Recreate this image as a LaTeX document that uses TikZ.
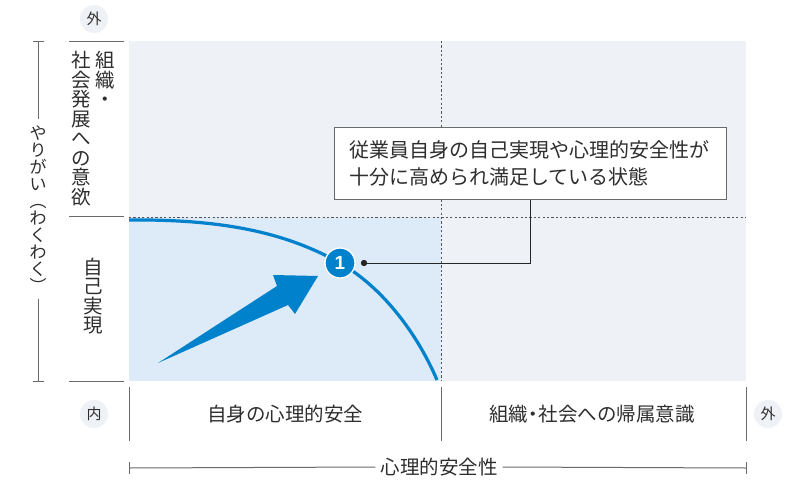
\documentclass[tikz,border=0pt]{standalone}
\usepackage{fontspec}
\setmainfont{Noto Sans CJK JP}
\newfontfamily\numfont{Liberation Sans}
\definecolor{mainblue}{HTML}{0081CC}
\definecolor{panel}{HTML}{EEF1F5}
\definecolor{lightblue}{HTML}{DDEAF8}
\definecolor{textgray}{HTML}{2E2E2E}
\definecolor{rulegray}{HTML}{6A6A6A}
\definecolor{dashgray}{HTML}{555555}
\begin{document}
\begin{tikzpicture}[x=1pt,y=-1pt,
  txt/.style={text=textgray, inner sep=0pt},
  big/.style={font=\fontsize{19.5}{27}\selectfont},
  vert/.style={txt, align=center, font=\fontsize{19.5}{19.5}\selectfont},
  vsmall/.style={txt, align=center, font=\fontsize{17}{17}\selectfont, inner ysep=6pt},
  badge/.style={circle, fill=panel, minimum size=28pt, inner sep=0pt, text=textgray, font=\fontsize{15}{15}\selectfont},
  rulel/.style={draw=rulegray, line width=1pt},
  dashline/.style={draw=dashgray, line width=0.9pt, dash pattern=on 2.2pt off 2.2pt},
  curveline/.style={draw=mainblue, line width=3.2pt},
  numcircle/.style={circle, fill=mainblue, draw=white, line width=1.3pt, minimum size=30pt, inner sep=0pt, text=white, font=\numfont\bfseries\fontsize{19}{19}\selectfont},
  dotnode/.style={circle, fill=black!85, minimum size=6pt, inner sep=0pt},
  leader/.style={draw=black!85, line width=1pt},
  callout/.style={draw=rulegray, line width=1pt, fill=white, text width=362pt, inner xsep=15pt, minimum height=72pt, align=left, text=textgray, font=\fontsize{20}{27}\selectfont}
]
\useasboundingbox (0,0) rectangle (797,479);
\fill[white] (0,0) rectangle (797,479);
% panels
\fill[panel] (129,41) rectangle (746,381);
\fill[lightblue] (129,217) rectangle (441,381);
\draw[dashline] (441,41) -- (441,381);
\draw[dashline] (129,217) -- (746,217);

% left axis labels
\node[badge] (outv) at (94,19) {外};
\node[badge] (inn) at (94,414) {内};
\draw[rulel] (69,41) -- (124,41);
\draw[rulel] (69,216) -- (124,216);
\draw[rulel] (69,381) -- (124,381);
\node[vert, anchor=north] (orgA) at (105,51) {組\\織\\・};
\node[vert, anchor=north] (orgB) at (81,51) {社\\会\\発\\展\\へ\\の\\意\\欲};
\node[vert] (self) at (93,296) {自\\己\\実\\現};

% left bracket
\coordinate (lt) at (38,41);
\coordinate (lb) at (38,381);
\node[vsmall] (yarigai) at (38,209) {や\\り\\が\\い\\︵\\わ\\く\\わ\\く\\︶};
\draw[rulel] (lt) -- (yarigai.north);
\draw[rulel] (yarigai.south) -- (lb);
\draw[rulel] (33,41) -- (44,41);
\draw[rulel] (33,381) -- (44,381);

% bottom axis labels
\draw[rulel] (129,387) -- (129,441);
\draw[rulel] (441,387) -- (441,441);
\draw[rulel] (746,387) -- (746,441);
\node[txt, big] (safe) at (285,414) {自身の心理的安全};
\node[txt, big] (belong) at (592,414) {組織\kern-0.22em・\kern-0.22em社会への帰属意識};
\node[badge] (outh) at (768,414) {外};

% bottom bracket
\coordinate (bl) at (129,468);
\coordinate (br) at (746,468);
\node[txt, big, inner xsep=5pt] (psy) at (439,467) {心理的安全性};
\draw[rulel] (bl) -- (psy.west);
\draw[rulel] (psy.east) -- (br);
\draw[rulel] (129,462) -- (129,474);
\draw[rulel] (746,462) -- (746,474);

% curve
\coordinate (c0) at (129,220);
\coordinate (c1) at (340,263);
\coordinate (c2) at (437,380);
\draw[curveline] (c0) .. controls (230,219) and (290,235) .. (c1)
  .. controls (382,287) and (417,333) .. (c2);

% big arrow
\fill[mainblue] (158,363) -- (277,286) -- (273,275) -- (318,276) -- (295,314) -- (288,305) -- cycle;

% callout
\node[callout] (box) at (530,163) {従業員自身の自己実現や心理的安全性が\\十分に高められ満足している状態};
\node[numcircle] (n1) at (c1) {1};
\node[dotnode] (dot) at (364,263) {};
\draw[leader] (dot.center) -| (box.south);
\node[dotnode] at (dot) {};
\end{tikzpicture}
\end{document}
